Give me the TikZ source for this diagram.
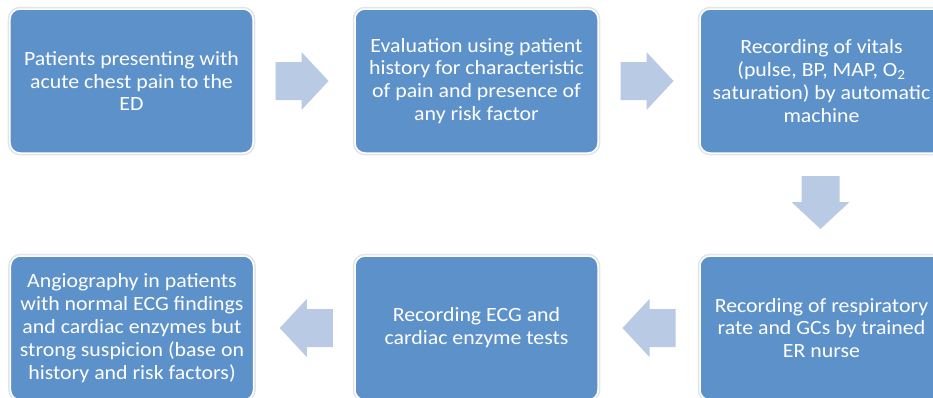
\documentclass[tikz,border=0pt]{standalone}
\usepackage{fontspec}
\setmainfont{Carlito}[FakeStretch=1.08]
\usetikzlibrary{calc}
\definecolor{boxblue}{RGB}{93,145,201}
\definecolor{arrowblue}{RGB}{185,203,228}
\definecolor{shadowgray}{RGB}{225,228,232}
\tikzset{
  stepbox/.style={rectangle, rounded corners=10bp, fill=boxblue, draw=white,
    line width=1.5bp, preaction={draw=shadowgray, line width=4.5bp},
    minimum width=243bp, minimum height=144bp, inner sep=0pt,
    text=white, align=center, font=\fontsize{20.3}{23}\selectfont},
  blockarrow/.pic={
    \fill[arrowblue] (-26.5,-19) -- (-0.5,-19) -- (-0.5,-29) -- (26.5,0)
      -- (-0.5,29) -- (-0.5,19) -- (-26.5,19) -- cycle;
  }
}
\begin{document}
\begin{tikzpicture}[x=1bp,y=-1bp]
\useasboundingbox (0,0) rectangle (933,397);
\fill[white] (0,0) rectangle (933,397);
\node[stepbox] (b1) at (131.5,81) {Patients presenting with\\acute chest pain to the\\ED};
\node[stepbox] (b2) at (476.5,81) {Evaluation using patient\\history for characteristic\\of pain and presence of\\any risk factor};
\node[stepbox] (b3) at (821.5,81) {Recording of vitals\\(pulse, BP, MAP, O\textsubscript{2}\\saturation) by automatic\\machine};
\node[stepbox] (b4) at (132,328) {Angiography in patients\\with normal ECG findings\\and cardiac enzymes but\\strong suspicion (base on\\history and risk factors)};
\node[stepbox] (b5) at (476.5,328) {Recording ECG and\\cardiac enzyme tests};
\node[stepbox] (b6) at (821.5,328) {Recording of respiratory\\rate and GCs by trained\\ER nurse};
\coordinate (m12) at ($(b1.east)!0.5!(b2.west)+(-2,0)$);
\coordinate (m23) at ($(b2.east)!0.5!(b3.west)+(-2,0)$);
\coordinate (m36) at ($(b3.south)!0.5!(b6.north)+(-1,-2)$);
\coordinate (m65) at ($(b6.west)!0.5!(b5.east)$);
\coordinate (m54) at ($(b5.west)!0.5!(b4.east)+(2,0)$);
\pic at (m12) {blockarrow};
\pic at (m23) {blockarrow};
\pic[rotate=-90] at (m36) {blockarrow};
\pic[rotate=180] at (m65) {blockarrow};
\pic[rotate=180] at (m54) {blockarrow};
\end{tikzpicture}
\end{document}
